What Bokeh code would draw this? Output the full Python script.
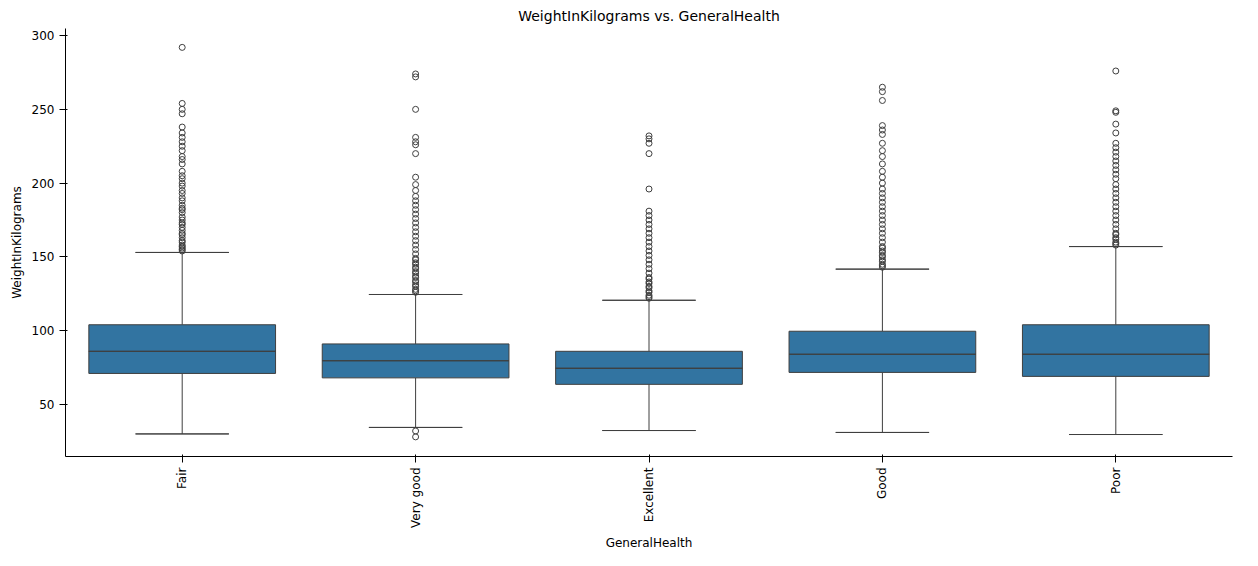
from bokeh.models import ColumnDataSource
from bokeh.plotting import figure
from bokeh.embed import file_html
from bokeh.resources import INLINE
import math

cats = ['Fair', 'Very good', 'Excellent', 'Good', 'Poor']
q1 = [71, 68, 63.6, 71.7, 69]
med = [86, 79.6, 74.5, 84, 84]
q3 = [104, 91, 86, 99.6, 104]
lo = [30, 34.4, 32.3, 31, 29.6]
hi = [153, 124.5, 120.6, 141.7, 157]

out_fair = [154, 155, 156, 157, 158, 160, 161, 163, 165, 166, 168, 170, 172, 173, 175, 177, 180, 182, 183, 185,
            188, 190, 193, 195, 198, 200, 203, 205, 208, 213, 216, 218, 222, 225, 228, 231, 234, 238, 247, 250, 254, 292]
out_vgood = [126, 127, 128, 130, 131, 133, 134, 136, 137, 139, 140, 142, 143, 145, 146, 148, 149, 152, 155, 158,
             161, 164, 167, 170, 173, 176, 179, 182, 185, 188, 191, 195, 199, 204, 220, 226, 228, 231, 250, 272, 274, 32, 28]
out_exc = [122, 123, 124, 126, 127, 129, 130, 132, 133, 135, 136, 139, 142, 145, 148, 151, 154, 157, 160, 163,
           166, 169, 172, 175, 178, 181, 196, 220, 227, 230, 232]
out_good = [143, 144, 145, 147, 148, 150, 151, 153, 154, 156, 157, 160, 163, 166, 169, 172, 175, 178, 181, 184,
            187, 190, 193, 196, 200, 204, 208, 213, 218, 222, 227, 233, 236, 239, 256, 262, 265]
out_poor = [158, 159, 160, 162, 163, 165, 166, 169, 172, 175, 178, 181, 184, 187, 190, 193, 196, 199, 203, 206,
            209, 212, 215, 218, 221, 224, 227, 234, 240, 248, 249, 276]
outliers = [out_fair, out_vgood, out_exc, out_good, out_poor]

src = ColumnDataSource(data=dict(cats=cats, q1=q1, med=med, q3=q3, lo=lo, hi=hi))

p = figure(x_range=cats, y_range=(14.7, 304.8), width=1242, height=552,
           title="WeightInKilograms vs. GeneralHealth", output_backend="svg",
           toolbar_location=None, tools="", min_border_left=65, min_border_right=10)

p.segment(x0='cats', y0='q3', x1='cats', y1='hi', source=src, line_color="#3f3f3f", line_width=1)
p.segment(x0='cats', y0='lo', x1='cats', y1='q1', source=src, line_color="#3f3f3f", line_width=1)
p.rect(x='cats', y='hi', width=0.4, height=0.01, source=src, line_color="#3f3f3f", fill_color=None)
p.rect(x='cats', y='lo', width=0.4, height=0.01, source=src, line_color="#3f3f3f", fill_color=None)
p.vbar(x='cats', bottom='q1', top='q3', width=0.8, source=src,
       fill_color="#3274a1", line_color="#3f3f3f", line_width=1)
p.rect(x='cats', y='med', width=0.8, height=0.01, source=src, line_color="#3f3f3f", fill_color=None)

ox, oy = [], []
for c, vals in zip(cats, outliers):
    ox += [c] * len(vals)
    oy += vals
p.scatter(ox, oy, size=6, fill_color=None, line_color="#3f3f3f", line_width=1)

p.title.align = "center"
p.title.text_font = "DejaVu Sans"
p.title.text_font_style = "normal"
p.title.text_font_size = "14px"
p.title.text_color = "black"
p.xaxis.axis_label = "GeneralHealth"
p.yaxis.axis_label = "WeightInKilograms"
for ax in (p.xaxis, p.yaxis):
    ax.axis_label_text_font = "DejaVu Sans"
    ax.axis_label_text_font_style = "normal"
    ax.axis_label_text_font_size = "12px"
    ax.axis_label_text_color = "black"
    ax.major_label_text_font = "DejaVu Sans"
    ax.major_label_text_font_size = "12px"
    ax.minor_tick_line_color = None
    ax.major_label_text_color = "black"
p.xaxis.major_label_orientation = math.pi / 2
p.yaxis.ticker = [50, 100, 150, 200, 250, 300]
p.xgrid.grid_line_color = None
p.ygrid.grid_line_color = None
p.outline_line_color = None
p.x_range.range_padding = 0.0

open("out.html", "w").write(file_html(p, INLINE))
